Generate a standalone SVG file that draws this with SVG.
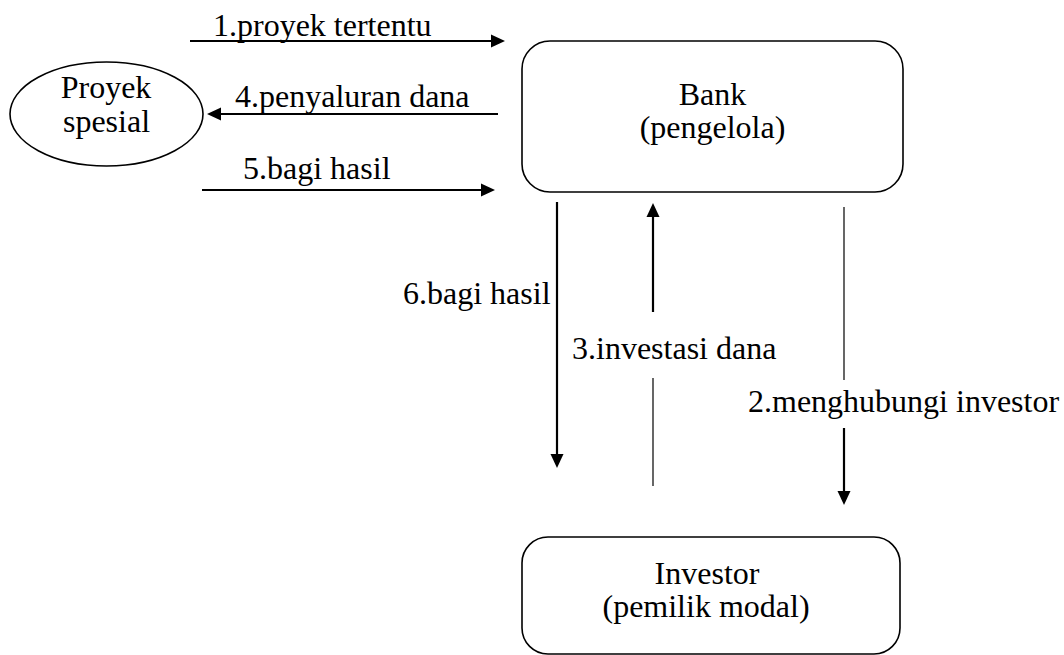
<svg xmlns="http://www.w3.org/2000/svg" width="1064" height="655" viewBox="0 0 1064 655">
<style>
text{font-family:"Liberation Serif","Times New Roman",serif;font-size:32px;fill:#000}
.c{text-anchor:middle}
.node{fill:#fff;stroke:#000;stroke-width:1.6}
.thick{stroke:#000;stroke-width:2.2;fill:none}
.thin{stroke:#000;stroke-width:1.2;fill:none}
</style>
<defs>
<marker id="ah" viewBox="0 -7 14 14" refX="0" refY="0" markerWidth="14" markerHeight="14" markerUnits="userSpaceOnUse" orient="auto">
<path d="M0,-6.5 L14,0 L0,6.5 z" fill="#000"/>
</marker>
</defs>
<rect width="1064" height="655" fill="#fff"/>
<g id="proyek">
<ellipse class="node" cx="106.5" cy="114" rx="96.5" ry="52"/>
<text class="c" x="106" y="98">Proyek</text>
<text class="c" x="106.5" y="132">spesial</text>
</g>
<g id="bank">
<rect class="node" x="522" y="41" width="381" height="151" rx="28" ry="28"/>
<text class="c" x="712.5" y="105">Bank</text>
<text class="c" x="712.5" y="138">(pengelola)</text>
</g>
<g id="investor">
<rect class="node" x="522" y="537" width="378" height="117" rx="26" ry="26"/>
<text class="c" x="707" y="584">Investor</text>
<text class="c" x="706" y="617">(pemilik modal)</text>
</g>
<g id="connectors">
<line class="thick" x1="190" y1="41" x2="491" y2="41" marker-end="url(#ah)"/>
<text x="213" y="36">1.proyek tertentu</text>
<line class="thick" x1="498" y1="114" x2="221" y2="114" marker-end="url(#ah)"/>
<text x="235" y="107">4.penyaluran dana</text>
<line class="thick" x1="202" y1="190" x2="481" y2="190" marker-end="url(#ah)"/>
<text x="243" y="179">5.bagi hasil</text>
<line class="thick" x1="557" y1="202" x2="557" y2="454" marker-end="url(#ah)"/>
<text x="403" y="304">6.bagi hasil</text>
<line class="thick" x1="653" y1="312" x2="653" y2="217" marker-end="url(#ah)"/>
<line class="thin" x1="653" y1="378" x2="653" y2="486"/>
<text x="572" y="359">3.investasi dana</text>
<line class="thin" x1="844" y1="207" x2="844" y2="380"/>
<line class="thick" x1="844" y1="428" x2="844" y2="491" marker-end="url(#ah)"/>
<text x="748" y="412">2.menghubungi investor</text>
</g>
</svg>
